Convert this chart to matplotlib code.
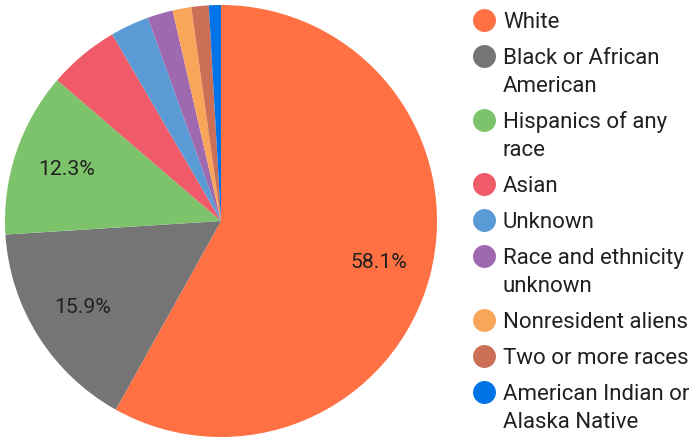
import numpy as np
import matplotlib
matplotlib.use("Agg")
import matplotlib.pyplot as plt

plt.rcParams['font.family'] = ['Roboto', 'DejaVu Sans']

# Data
labels = ["White", "Black or African\nAmerican", "Hispanics of any\nrace", "Asian",
          "Unknown", "Race and ethnicity\nunknown", "Nonresident aliens",
          "Two or more races", "American Indian or\nAlaska Native"]
values = [58.1, 15.9, 12.3, 5.3, 2.9, 1.9, 1.4, 1.3, 0.9]
colors = ["#FF7043", "#757575", "#7DC36C", "#EF5B69", "#5B9BD5",
          "#9E69AF", "#F9A65A", "#CC6F57", "#0073E6"]

W, H = 697, 442
fig = plt.figure(figsize=(W / 100, H / 100), dpi=100)

# pie area: center (221,221), radius 216 px
ax = fig.add_axes([5 / W, 5 / H, 432 / W, 432 / H])
ax.pie(values, colors=colors, startangle=90, counterclock=False,
       autopct=lambda p: f"{p:.1f}%" if p > 10 else "",
       pctdistance=0.755, radius=1.0,
       wedgeprops=dict(linewidth=0),
       textprops=dict(fontsize=15.3, color="#212121"))
ax.set_xlim(-1, 1)
ax.set_ylim(-1, 1)
ax.set_aspect('equal')
ax.axis('off')

# legend drawn by hand, one text per line so spacing is exact
fs = 16
cap = fs * 100 / 72 * 0.711  # cap height in px
y = 20
for lab, c in zip(labels, colors):
    fig.lines.append(plt.Line2D([484 / W], [1 - y / H], marker='o', markersize=15.5,
                                color=c, linestyle='none', transform=fig.transFigure))
    for k, line in enumerate(lab.split("\n")):
        yy = y + 28 * k + cap / 2
        fig.text(503 / W, 1 - yy / H, line, fontsize=fs, color="#212121",
                 va='baseline', ha='left')
    y += 36 + 28 * lab.count("\n")

fig.savefig("out.png", dpi=100)
